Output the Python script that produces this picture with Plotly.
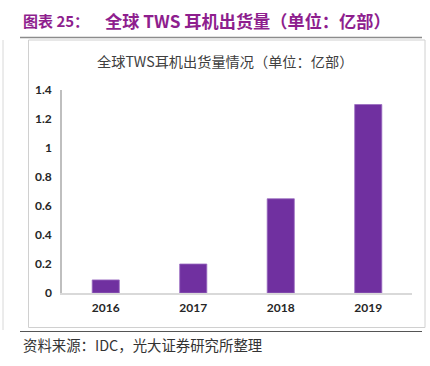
import plotly.graph_objects as go

years = ["2016", "2017", "2018", "2019"]
shipments = [0.09, 0.2, 0.65, 1.3]
y_ticks = [0, 0.2, 0.4, 0.6, 0.8, 1, 1.2, 1.4]
y_labels = ["0", "0.2", "0.4", "0.6", "0.8", "1", "1.2", "1.4"]

W, H = 430, 366
L, R, T, B = 62, 18, 90, 73
PW, PH = W - L - R, H - T - B

def px(x):
    return (x - L) / PW

def py(y):
    return (H - B - y) / PH

fig = go.Figure()
fig.add_trace(go.Bar(
    x=years, y=shipments,
    marker=dict(color="#7030A0", line=dict(color="#9A6CC0", width=0.8)),
    width=0.31,
))

shapes = [
    dict(type="line", xref="paper", yref="paper", x0=px(20), x1=px(422), y0=py(37.5), y1=py(37.5),
         line=dict(color="#8C8C8C", width=1.5)),
    dict(type="rect", xref="paper", yref="paper", x0=px(28.5), x1=px(425), y0=py(40), y1=py(327.5),
         line=dict(color="#D0D0D0", width=1)),
    dict(type="line", xref="paper", yref="paper", x0=px(3), x1=px(3), y0=py(40), y1=py(330),
         line=dict(color="#D8D8D8", width=1)),
    dict(type="line", xref="paper", yref="paper", x0=px(20), x1=px(422), y0=py(331.5), y1=py(331.5),
         line=dict(color="#555555", width=1)),
]

annotations = [
    dict(text="<b>图表 25：</b>", xref="paper", yref="paper", x=px(21), y=py(20), xanchor="left", yanchor="middle",
         showarrow=False, font=dict(family="Noto Sans CJK SC", size=15, color="#8E1E8E")),
    dict(text="<b>全球 TWS 耳机出货量（单位：亿部）</b>", xref="paper", yref="paper", x=px(103), y=py(20), xanchor="left", yanchor="middle",
         showarrow=False, font=dict(family="Noto Sans CJK SC", size=17.2, color="#8E1E8E")),
    dict(text="全球TWS耳机出货量情况（单位：亿部）", xref="paper", yref="paper", x=px(225), y=py(61), xanchor="center", yanchor="middle",
         showarrow=False, font=dict(family="Noto Sans CJK SC", size=14.2, color="#404040")),
    dict(text="资料来源：IDC，光大证券研究所整理", xref="paper", yref="paper", x=px(21), y=py(344), xanchor="left", yanchor="middle",
         showarrow=False, font=dict(family="Noto Sans CJK SC", size=14.4, color="#333333")),
]

fig.update_layout(
    width=W, height=H,
    margin=dict(l=L, r=R, t=T, b=B, pad=0),
    paper_bgcolor="white", plot_bgcolor="white",
    showlegend=False,
    shapes=shapes,
    annotations=annotations,
    font=dict(family="Lato", size=12, color="#262626"),
)
fig.update_xaxes(
    showline=True, linecolor="#D9D9D9", linewidth=1.5,
    showgrid=False, ticks="", tickfont=dict(family="Lato", size=12, color="#262626", weight="bold"),
    ticklabelstandoff=3,
)
fig.update_yaxes(
    range=[0, 1.4], tickvals=y_ticks, ticktext=y_labels,
    showline=True, linecolor="#BFBFBF", linewidth=1.5,
    showgrid=False, zeroline=False, ticks="",
    tickfont=dict(family="Lato", size=12, color="#262626", weight="bold"),
    ticklabelstandoff=6,
)

fig.write_html("out.html", config={"displayModeBar": False},
               post_script="document.body.style.margin='0';document.body.style.overflow='hidden';")
